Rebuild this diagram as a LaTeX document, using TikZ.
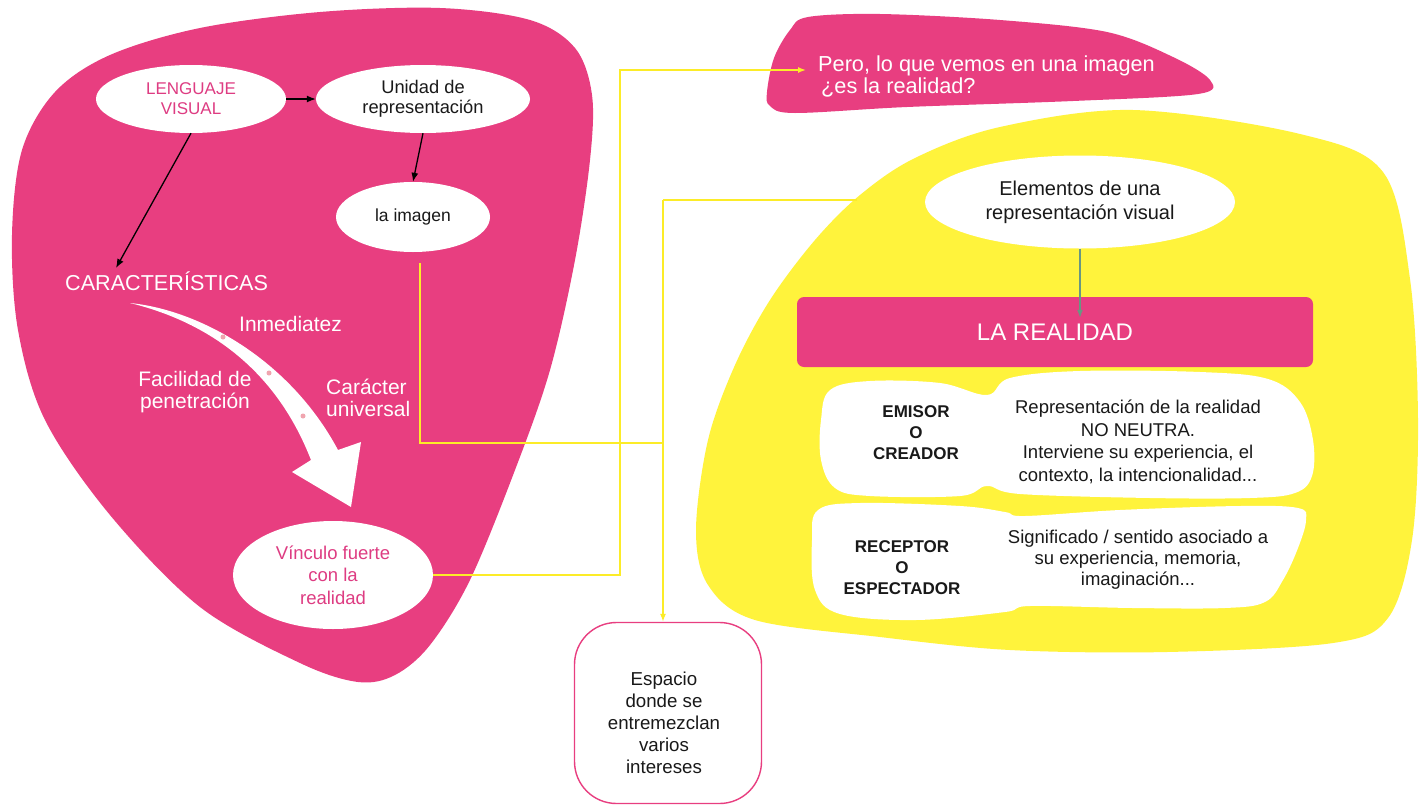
\documentclass[tikz,border=0pt]{standalone}
\usepackage{fontspec}
\setmainfont{Liberation Sans}
\usetikzlibrary{shapes.geometric,arrows.meta}
\definecolor{pk}{RGB}{232,62,128}
\definecolor{pktxt}{RGB}{222,60,130}
\definecolor{yl}{RGB}{255,243,60}
\definecolor{ylline}{RGB}{252,236,40}
\definecolor{gr}{RGB}{105,150,130}
\definecolor{dotc}{RGB}{240,165,175}
\definecolor{txt}{RGB}{25,25,25}
\newcommand\fsz[2]{\fontsize{#1}{#2}\selectfont}
\begin{document}
\begin{tikzpicture}[x=1pt,y=-1pt,
  ellw/.style={ellipse, fill=white, inner sep=0pt, align=center},
  wlab/.style={text=white, inner sep=0pt, align=center},
  tlab/.style={text=txt, inner sep=0pt, align=center},
  yline/.style={draw=ylline, line width=1.4pt},
  ytip/.style={-{Latex[length=8pt,width=6pt]}},
  blk/.style={draw=black, line width=1.3pt, -{Latex[length=9pt,width=7pt]}}]
\useasboundingbox (0,0) rectangle (1421,806);
\fill[white] (0,0) rectangle (1421,806);

% ---------- blobs ----------
\fill[pk] plot[smooth cycle, tension=0.55] coordinates {
 (12,235) (22,150) (55,92) (110,55) (200,28) (320,12) (440,8) (530,20)
 (575,48) (592,95) (590,160) (575,260) (550,370) (515,470) (470,580)
 (430,645) (395,675) (358,682) (300,663) (200,607) (110,515) (45,420) (18,330)};
\fill[pk] plot[smooth cycle, tension=0.55] coordinates {
 (767,92) (774,58) (790,30) (808,17) (880,14) (1000,20) (1107,32) (1173,57)
 (1210,80) (1198,94) (1073,101) (907,107) (795,113) (770,106)};
\fill[yl] plot[smooth cycle, tension=0.55] coordinates {
 (696,530) (708,440) (735,365) (770,300) (815,240) (860,195) (915,158)
 (1000,127) (1133,110) (1300,134) (1383,172) (1410,279) (1418,420)
 (1412,540) (1388,618) (1333,643) (1167,652) (1010,650) (880,637) (755,620) (708,585)};

% ---------- white clouds ----------
\fill[white] plot[smooth cycle, tension=0.6] coordinates {
 (821,420) (830,390) (870,381) (940,383) (987,395) (1010,378) (1080,371)
 (1200,372) (1268,379) (1300,402) (1313,440) (1312,476) (1295,493)
 (1250,498) (1150,498) (1020,494) (987,486) (960,496) (870,496) (835,488) (821,460)};
\fill[white] plot[smooth cycle, tension=0.6] coordinates {
 (812,540) (818,510) (860,503) (960,506) (1005,512) (1025,516) (1120,510)
 (1240,506) (1298,508) (1306,520) (1298,548) (1283,580) (1265,602)
 (1225,608) (1133,608) (1030,606) (1005,612) (916,620) (840,614) (815,590)};

% ---------- curved white arrow ----------
\fill[white] (130,303) .. controls (200,310) and (290,360) .. (338,450)
  -- (361,442) -- (351,507) -- (292,472) -- (311,460)
  .. controls (280,380) and (220,325) .. (130,303) -- cycle;
\fill[dotc] (223,337) circle (2.5);
\fill[dotc] (269,373) circle (2.5);
\fill[dotc] (303,416) circle (2.5);

% ---------- left nodes ----------
\node[ellw, minimum width=190pt, minimum height=68pt, text=pktxt,
  font=\fsz{17}{20}] (lv) at (191,99) {LENGUAJE\\VISUAL};
\node[ellw, minimum width=214pt, minimum height=68pt, text=txt,
  font=\fsz{18.3}{20.5}] (ur) at (423,99) {Unidad de\\representación};
\node[ellw, minimum width=154pt, minimum height=70pt, text=txt,
  font=\fsz{17.5}{20}] (im) at (413,217) {la imagen};
\node[ellw, minimum width=200pt, minimum height=108pt, text=pktxt,
  font=\fsz{18.5}{22.5}] (vin) at (333,575) {Vínculo fuerte\\con la\\realidad};

\node[wlab, anchor=west, font=\fsz{21.6}{24}] (car) at (65,281) {CARACTERÍSTICAS};
\node[wlab, anchor=west, font=\fsz{21}{24}] (inm) at (239,324) {Inmediatez};
\node[wlab, font=\fsz{21}{22}] (fac) at (195,392) {Facilidad de\\penetración};
\node[wlab, anchor=west, align=left, font=\fsz{21}{21.5}] (univ) at (326,398) {Carácter\\universal};

\coordinate (carin) at (116,268);
\draw[blk] (lv.east) -- (ur.west);
\draw[blk] (ur.south) -- (im.north);
\draw[blk] (lv.south) -- (carin);

% ---------- top right ----------
\node[wlab, anchor=west, align=left, font=\fsz{21.7}{22}] (pero) at (818,76)
  {Pero, lo que vemos en una imagen\\\hspace*{3pt}¿es la realidad?};

% ---------- right nodes ----------
\node[ellw, minimum width=310pt, minimum height=93pt, text=txt,
  font=\fsz{20}{24}] (elem) at (1080,202) {Elementos de una\\representación visual};
\node[fill=pk, rounded corners=7pt, minimum width=516pt, minimum height=70pt,
  inner sep=0pt, text=white, font=\fsz{24}{26}] (real) at (1055,332) {LA REALIDAD};
\draw[draw=gr, line width=1.2pt, -{Latex[length=8pt,width=6pt]}]
  (elem.south) -- ([yshift=-21pt]real.north -| elem.south);

\node[tlab, font=\bfseries\fsz{17}{21}] (em) at (916,433) {EMISOR\\O\\CREADOR};
\node[tlab, font=\fsz{18.5}{22.7}] (emt) at (1138,442)
  {Representación de la realidad\\NO NEUTRA.\\Interviene su experiencia, el\\contexto, la intencionalidad...};
\node[tlab, font=\bfseries\fsz{17}{21}] (rc) at (902,568) {RECEPTOR\\O\\ESPECTADOR};
\node[tlab, font=\fsz{18.5}{21}] (rct) at (1138,560)
  {Significado / sentido asociado a\\su experiencia, memoria,\\imaginación...};

% ---------- Espacio box ----------
\node[draw=pk, line width=1.4pt, fill=white, rounded corners=42pt,
  minimum width=187pt, minimum height=181pt] (esp) at (668,713) {};
\node[tlab, font=\fsz{18.7}{22}] (espt) at (664,723)
  {Espacio\\donde se\\entremezclan\\varios\\intereses};

% ---------- yellow connectors ----------
\coordinate (imline) at (420,263);
\coordinate (junc) at (663,443);
\coordinate (top) at (663,200);
\coordinate (yedge) at (857,200);
\coordinate (turn) at (620,70);
\coordinate (peroin) at (806,70);
\draw[yline] (imline) |- (junc);
\draw[yline] (yedge) -- (top);
\draw[yline, ytip] (top) -- (top |- esp.north);
\draw[yline, ytip] (vin.east) -| (turn) -- (peroin);
\end{tikzpicture}
\end{document}
